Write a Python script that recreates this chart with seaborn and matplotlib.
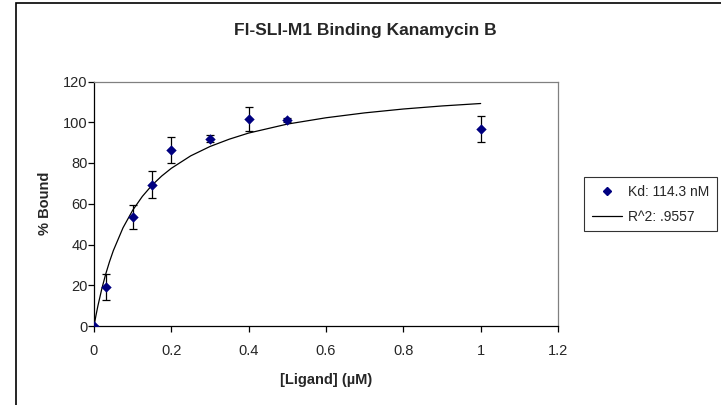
import numpy as np
import pandas as pd
import seaborn as sns
import matplotlib.pyplot as plt
from matplotlib.lines import Line2D
from matplotlib.patches import Rectangle

ligand = [0.0, 0.03, 0.1, 0.15, 0.2, 0.3, 0.4, 0.5, 1.0]
bound = [0.0, 19.3, 53.5, 69.4, 86.4, 92.0, 101.7, 101.0, 96.8]
bound_err = [0.0, 6.3, 6.0, 6.7, 6.4, 1.5, 6.0, 1.0, 6.5]

# fitted curve
fit_x = [0.0, 0.005, 0.01, 0.02, 0.03, 0.04, 0.05, 0.075, 0.1, 0.125, 0.15,
         0.175, 0.2, 0.25, 0.3, 0.35, 0.4, 0.5, 0.6, 0.7, 0.8, 0.9, 1.0]
fit_y = [0.0, 5.1, 9.8, 18.1, 25.3, 31.5, 37.0, 48.2, 56.8, 63.6, 69.1,
         73.6, 77.4, 83.5, 88.1, 91.7, 94.7, 99.1, 102.2, 104.6, 106.5,
         108.0, 109.2]

df = pd.DataFrame({"ligand": ligand, "bound": bound, "err": bound_err})
fit = pd.DataFrame({"x": fit_x, "y": fit_y})

sns.set_style("white")
plt.rcParams["font.family"] = ["Liberation Sans", "DejaVu Sans"]

fig = plt.figure(figsize=(7.21, 4.05), dpi=100)
ax = fig.add_axes([94 / 721, 79 / 405, 464 / 721, 244.5 / 405])

sns.lineplot(data=fit, x="x", y="y", color="black", linewidth=0.9, ax=ax)
ax.errorbar(df["ligand"], df["bound"], yerr=df["err"], fmt="none",
            ecolor="black", elinewidth=0.9, capsize=3, capthick=0.9, zorder=3)
sns.scatterplot(data=df, x="ligand", y="bound", marker="D", color="#000080",
                s=28, edgecolor="#000080", linewidth=0, zorder=4, ax=ax)

ax.set_xlim(0, 1.2)
ax.set_ylim(0, 120)
ax.set_xticks([0, 0.2, 0.4, 0.6, 0.8, 1.0, 1.2])
ax.set_xticklabels(["0", "0.2", "0.4", "0.6", "0.8", "1", "1.2"])
ax.set_yticks(range(0, 121, 20))
ax.tick_params(axis="both", labelsize=10.5, length=4, width=0.9, color="black",
               direction="out", left=True, bottom=True)
ax.tick_params(axis="x", pad=9)
ax.tick_params(axis="y", pad=0.5)
ax.spines["left"].set_color("black")
ax.spines["bottom"].set_color("black")
ax.spines["top"].set_color("#808080")
ax.spines["right"].set_color("#808080")
for s in ax.spines.values():
    s.set_linewidth(0.9)

ax.set_xlabel("[Ligand] (\u00b5M)", fontsize=10.5, fontweight="bold", labelpad=11)
ax.set_ylabel("% Bound", fontsize=10.5, fontweight="bold", labelpad=8)

fig.text(365 / 721, 1 - 31 / 405, "Fl-SLI-M1 Binding Kanamycin B",
         ha="center", va="center", fontsize=12.5, fontweight="bold")

handles = [
    Line2D([], [], marker="D", color="#000080", linestyle="none", markersize=4.5),
    Line2D([], [], color="black", linewidth=0.9),
]
leg = fig.legend(handles, ["Kd: 114.3 nM", "R^2: .9557"],
                 loc="upper left", bbox_to_anchor=(584 / 721, 1 - 177 / 405),
                 fontsize=10, frameon=True, fancybox=False, handlelength=2.2,
                 borderpad=0.55, labelspacing=0.8, handletextpad=0.4,
                 borderaxespad=0)
leg.get_frame().set_edgecolor("black")
leg.get_frame().set_linewidth(0.8)

fig.patches.append(Rectangle((16 / 721, -0.05), 1.0, 1 - 3 / 405 + 0.05,
                             transform=fig.transFigure, fill=False,
                             edgecolor="black", linewidth=1.2))

plt.savefig("out.png", dpi=100)
